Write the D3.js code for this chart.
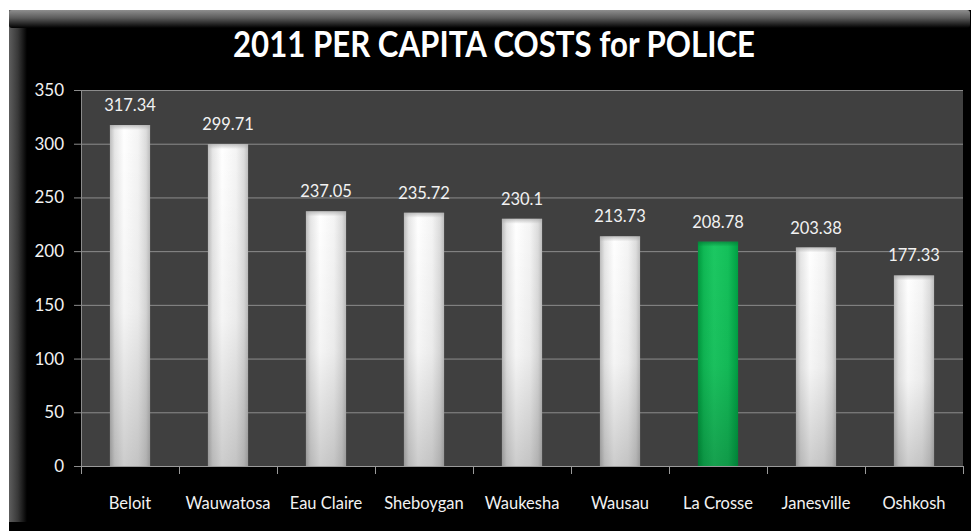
<!DOCTYPE html>
<html>
<head>
<meta charset="utf-8">
<script src="https://cdn.jsdelivr.net/npm/d3@7"></script>
<style>
  html, body { margin: 0; padding: 0; background: #fff; }
  svg { display: block; }
</style>
</head>
<body>
<svg id="chart" width="973" height="531"></svg>
<script>
// 2011 per-capita police costs by city
const cities = ["Beloit", "Wauwatosa", "Eau Claire", "Sheboygan", "Waukesha", "Wausau", "La Crosse", "Janesville", "Oshkosh"];
const costs = [317.34, 299.71, 237.05, 235.72, 230.1, 213.73, 208.78, 203.38, 177.33];
const highlightCity = "La Crosse";
const yTicks = [0, 50, 100, 150, 200, 250, 300, 350];
const titleText = "2011 PER CAPITA COSTS for POLICE";

const svg = d3.select("#chart");
const W = 973, H = 531;
const plot = { left: 81, right: 963, top: 90, bottom: 466 };
const font = "Lato, 'Open Sans', sans-serif";

const defs = svg.append("defs");

// frame bevels
const topBevel = defs.append("linearGradient").attr("id", "topBevel")
  .attr("x1", 0).attr("y1", 0).attr("x2", 0).attr("y2", 1);
topBevel.append("stop").attr("offset", "0%").attr("stop-color", "#8e8e8e");
topBevel.append("stop").attr("offset", "45%").attr("stop-color", "#5a5a5a");
topBevel.append("stop").attr("offset", "100%").attr("stop-color", "#000");

const leftBevel = defs.append("linearGradient").attr("id", "leftBevel")
  .attr("x1", 0).attr("y1", 0).attr("x2", 1).attr("y2", 0);
leftBevel.append("stop").attr("offset", "0%").attr("stop-color", "#5e5e5e");
leftBevel.append("stop").attr("offset", "50%").attr("stop-color", "#383838");
leftBevel.append("stop").attr("offset", "100%").attr("stop-color", "#000");

// bar fills
function hGrad(id, stops) {
  const g = defs.append("linearGradient").attr("id", id)
    .attr("x1", 0).attr("y1", 0).attr("x2", 1).attr("y2", 0);
  stops.forEach(([o, c]) => g.append("stop").attr("offset", o).attr("stop-color", c));
}
hGrad("whiteBar", [["0%", "#bcbcbc"], ["12%", "#e6e6e6"], ["35%", "#ffffff"], ["70%", "#f4f4f4"], ["90%", "#dcdcdc"], ["100%", "#bdbdbd"]]);
hGrad("greenBar", [["0%", "#009a3e"], ["15%", "#10b955"], ["40%", "#1cc862"], ["75%", "#14c05a"], ["100%", "#00a044"]]);

const shade = defs.append("linearGradient").attr("id", "shade")
  .attr("x1", 0).attr("y1", 0).attr("x2", 0).attr("y2", 1);
shade.append("stop").attr("offset", "0%").attr("stop-color", "#000").attr("stop-opacity", 0);
shade.append("stop").attr("offset", "55%").attr("stop-color", "#000").attr("stop-opacity", 0.04);
shade.append("stop").attr("offset", "100%").attr("stop-color", "#000").attr("stop-opacity", 0.2);

function vEdge(id, color) {
  const g = defs.append("linearGradient").attr("id", id)
    .attr("x1", 0).attr("y1", 0).attr("x2", 0).attr("y2", 1);
  g.append("stop").attr("offset", "0%").attr("stop-color", color).attr("stop-opacity", 0.7);
  g.append("stop").attr("offset", "100%").attr("stop-color", color).attr("stop-opacity", 0);
}
vEdge("edgeWhite", "#a8a8a8");
vEdge("edgeGreen", "#067a36");

// frame
svg.append("rect").attr("x", 9).attr("y", 10).attr("width", W - 11).attr("height", H - 10).attr("fill", "#000");
svg.append("rect").attr("x", 9).attr("y", 10).attr("width", 18).attr("height", 512).attr("fill", "url(#leftBevel)");
svg.append("rect").attr("x", 9).attr("y", 10).attr("width", W - 12).attr("height", 18).attr("rx", 3).attr("fill", "url(#topBevel)");

// title
svg.append("text")
  .attr("x", 494).attr("y", 57)
  .attr("text-anchor", "middle")
  .attr("font-family", font).attr("font-weight", 700).attr("font-size", 37)
  .attr("textLength", 522).attr("lengthAdjust", "spacingAndGlyphs")
  .attr("fill", "#fff")
  .text(titleText);

// scales
const x = d3.scaleBand().domain(cities).range([plot.left, plot.right])
  .paddingInner(0.59).paddingOuter(0.295);
const y = d3.scaleLinear().domain([0, 350]).range([plot.bottom, plot.top]);

// plot area
svg.append("rect")
  .attr("x", plot.left).attr("y", plot.top)
  .attr("width", plot.right - plot.left).attr("height", plot.bottom - plot.top)
  .attr("fill", "#404040");

// gridlines
svg.append("g").selectAll("line").data(yTicks.filter(d => d > 0)).join("line")
  .attr("x1", plot.left).attr("x2", plot.right)
  .attr("y1", d => y(d) + 0.5).attr("y2", d => y(d) + 0.5)
  .attr("stroke", "#8c8c8c").attr("stroke-width", 1);

// y axis
const yAxis = svg.append("g").attr("transform", `translate(${plot.left},0)`)
  .call(d3.axisLeft(y).tickValues(yTicks).tickSize(7).tickPadding(10));
yAxis.select(".domain").attr("stroke", "#8c8c8c");
yAxis.selectAll(".tick line").attr("stroke", "#8c8c8c");
yAxis.selectAll(".tick text")
  .attr("fill", "#f2f2f2").attr("font-family", font).attr("font-size", 17);

// x axis with ticks on category boundaries
const xAxisG = svg.append("g").attr("transform", `translate(0,${plot.bottom})`);
xAxisG.append("line").attr("x1", plot.left).attr("x2", plot.right)
  .attr("y1", 0.5).attr("y2", 0.5).attr("stroke", "#9a9a9a");
const boundaries = d3.range(cities.length + 1).map(i => plot.left + i * x.step());
xAxisG.selectAll("line.tk").data(boundaries).join("line").attr("class", "tk")
  .attr("x1", d => Math.round(d) + 0.5).attr("x2", d => Math.round(d) + 0.5)
  .attr("y1", 0).attr("y2", 8).attr("stroke", "#9a9a9a");
xAxisG.selectAll("text").data(cities).join("text")
  .attr("x", d => x(d) + x.bandwidth() / 2).attr("y", 43)
  .attr("text-anchor", "middle")
  .attr("fill", "#f2f2f2").attr("font-family", font).attr("font-size", 16.5)
  .text(d => d);

// bars
const bars = svg.append("g").selectAll("g").data(cities.map((c, i) => ({ city: c, value: costs[i] }))).join("g");
bars.append("rect")
  .attr("x", d => x(d.city)).attr("width", x.bandwidth())
  .attr("y", d => y(d.value)).attr("height", d => y(0) - y(d.value))
  .attr("fill", d => d.city === highlightCity ? "url(#greenBar)" : "url(#whiteBar)");
bars.append("rect")
  .attr("x", d => x(d.city)).attr("width", x.bandwidth())
  .attr("y", d => y(d.value)).attr("height", d => y(0) - y(d.value))
  .attr("fill", "url(#shade)");
// soft bevel along the top edge
bars.append("rect")
  .attr("x", d => x(d.city)).attr("width", x.bandwidth())
  .attr("y", d => y(d.value)).attr("height", 5)
  .attr("fill", d => d.city === highlightCity ? "url(#edgeGreen)" : "url(#edgeWhite)");

// value labels
bars.append("text")
  .attr("x", d => x(d.city) + x.bandwidth() / 2)
  .attr("y", d => y(d.value) - 14)
  .attr("text-anchor", "middle")
  .attr("fill", "#f2f2f2").attr("font-family", font).attr("font-size", 16.5)
  .text(d => d.value);
</script>
</body>
</html>
